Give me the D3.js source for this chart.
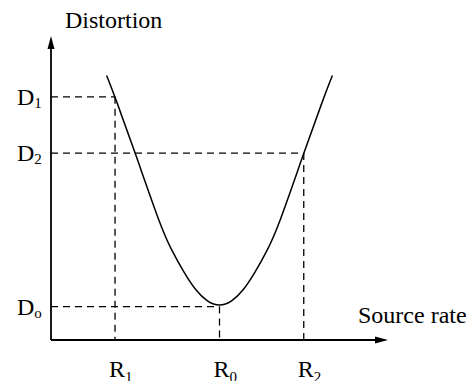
<!DOCTYPE html>
<html>
<head>
<meta charset="utf-8">
<script src="https://cdn.jsdelivr.net/npm/d3@7"></script>
<style>
  body { margin: 0; background: #fff; }
  svg { display: block; }
</style>
</head>
<body>
<div id="grafica"></div>
<script>
// operating points: R1/D1, R0/D0, R2/D2
const rateMarks = [1.9, 5.0, 7.5];
const rateSubs = ["1", "0", "2"];
const distMarks = [8.0, 1.1, 6.15];
const distSubs = ["1", "o", "2"];

// rate-distortion curve
const curveRate = [1.65, 1.9, 2.5, 3.28, 3.58, 3.96, 4.29, 4.64, 5.0, 5.36, 5.71, 6.04, 6.42, 6.72, 7.5, 8.1, 8.35];
const curveDist = [8.7, 8.0, 6.15, 3.65, 2.95, 2.19, 1.63, 1.25, 1.1, 1.25, 1.63, 2.19, 2.95, 3.65, 6.15, 8.0, 8.7];

let width = 474
let height = 381
let fuente = "'Liberation Serif', 'Times New Roman', Times, serif"

let x = d3.scaleLinear().domain([0, 10]).range([51, 388])
let y = d3.scaleLinear().domain([0, 10]).range([340, 36])

let svg = d3.select("#grafica")
  .append("svg")
    .attr("width", width)
    .attr("height", height)
    .attr("font-family", fuente)

// dashed guides
let puntos = rateMarks.map((r, i) => ({ r: r, d: distMarks[i] }))

svg.selectAll(".hdash")
  .data(puntos)
  .enter()
  .append("line")
    .attr("x1", x(0))
    .attr("x2", d => x(d.r))
    .attr("y1", d => y(d.d))
    .attr("y2", d => y(d.d))
    .attr("stroke", "#000")
    .attr("stroke-width", 1.3)
    .attr("stroke-dasharray", "7,5")

svg.selectAll(".vdash")
  .data(puntos)
  .enter()
  .append("line")
    .attr("x1", d => x(d.r))
    .attr("x2", d => x(d.r))
    .attr("y1", d => y(d.d))
    .attr("y2", y(0))
    .attr("stroke", "#000")
    .attr("stroke-width", 1.3)
    .attr("stroke-dasharray", "7,5")

// curve
let linea = d3.line()
  .x(d => x(d[0]))
  .y(d => y(d[1]))
  .curve(d3.curveBasis)

svg.append("path")
  .datum(curveRate.map((r, i) => [r, curveDist[i]]))
  .attr("d", linea)
  .attr("fill", "none")
  .attr("stroke", "#000")
  .attr("stroke-width", 1.5)

// axes with arrows
svg.append("line")
  .attr("x1", x(0)).attr("x2", x(0))
  .attr("y1", y(0)).attr("y2", y(10) + 8)
  .attr("stroke", "#000").attr("stroke-width", 1.8)
svg.append("path")
  .attr("d", `M${x(0)},${y(10)} L${x(0) - 3.5},${y(10) + 13} L${x(0) + 3.5},${y(10) + 13} Z`)
  .attr("fill", "#000")

svg.append("line")
  .attr("x1", x(0)).attr("x2", x(10) - 8)
  .attr("y1", y(0)).attr("y2", y(0))
  .attr("stroke", "#000").attr("stroke-width", 1.8)
svg.append("path")
  .attr("d", `M${x(10)},${y(0)} L${x(10) - 13},${y(0) - 3.5} L${x(10) - 13},${y(0) + 3.5} Z`)
  .attr("fill", "#000")

// axis titles
svg.append("text")
  .attr("x", 65).attr("y", 28)
  .attr("font-size", 24)
  .text("Distortion")

svg.append("text")
  .attr("x", 358).attr("y", 323)
  .attr("font-size", 24)
  .text("Source rate")

// D labels
let dLab = svg.selectAll(".dlab")
  .data(distMarks)
  .enter()
  .append("text")
    .attr("x", 17)
    .attr("y", d => y(d) + 8)
    .attr("font-size", 24)
dLab.append("tspan").text("D")
dLab.append("tspan")
  .attr("dy", 3)
  .attr("font-size", 15)
  .text((d, i) => distSubs[i])

// R labels (bottom edge cuts them, as in the figure)
let rLab = svg.selectAll(".rlab")
  .data(rateMarks)
  .enter()
  .append("text")
    .attr("x", d => x(d) - 6)
    .attr("y", 377)
    .attr("font-size", 24)
rLab.append("tspan").text("R")
rLab.append("tspan")
  .attr("dy", 5)
  .attr("font-size", 15)
  .text((d, i) => rateSubs[i])
</script>
</body>
</html>
